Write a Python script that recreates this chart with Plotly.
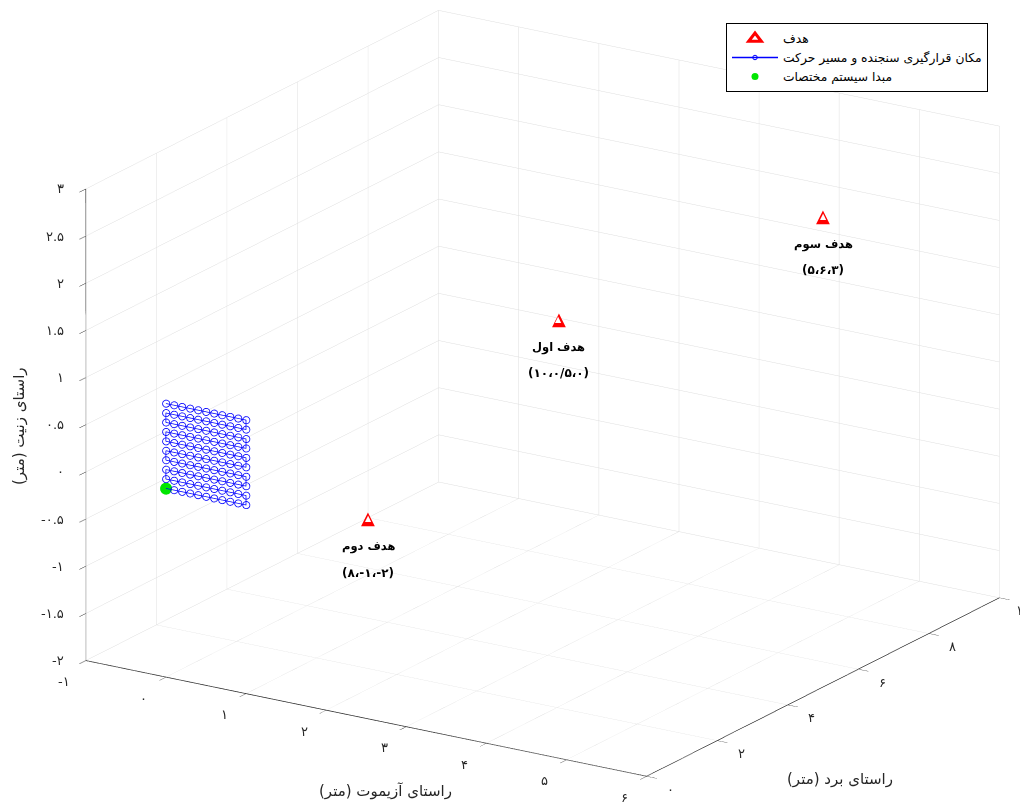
import plotly.graph_objects as go

# ---------------- data ----------------
# sensor placement grid (serpentine scan), metres
sensor_x = [0.0, 0.1, 0.2, 0.3, 0.4, 0.5, 0.6, 0.7, 0.8, 0.9, 1.0]
sensor_z = [0.0, 0.1, 0.2, 0.3, 0.4, 0.5, 0.6, 0.7, 0.8, 0.9]
sensor_y = 0.0

# coordinate system origin
origin_x = [0.0]
origin_y = [0.0]
origin_z = [0.0]

# targets
target_x = [0.5, -1.0, 6.0]
target_y = [10.0, 8.0, 5.0]
target_z = [0.0, -2.0, 3.0]
target_names = ["هدف اول", "هدف دوم", "هدف سوم"]
target_coords = ["(۱۰،۰/۵،۰)", "(۸،-۱،-۲)", "(۵،۶،۳)"]

# ticks
x_range = [-1, 6]
y_range = [0, 10]
z_range = [-2, 3]
x_ticks = [-1, 0, 1, 2, 3, 4, 5, 6]
x_tick_labels = ["-۱", "۰", "۱", "۲", "۳", "۴", "۵", "۶"]
y_ticks = [0, 2, 4, 6, 8, 10]
y_tick_labels = ["۰", "۲", "۴", "۶", "۸", "۱۰"]
z_ticks = [-2, -1.5, -1, -0.5, 0, 0.5, 1, 1.5, 2, 2.5, 3]
z_tick_labels = ["-۲", "-۱.۵", "-۱", "-۰.۵", "۰", "۰.۵", "۱", "۱.۵", "۲", "۲.۵", "۳"]

legend_labels = ["هدف", "مکان قرارگیری سنجنده و مسیر حرکت", "مبدا سیستم مختصات"]
x_title = "راستای آزیموت (متر)\u200f"
y_title = "راستای برد (متر)\u200f"
z_title = "راستای زنیت (متر)\u200f"

# serpentine path through the grid
path_x, path_y, path_z = [], [], []
for i, zv in enumerate(sensor_z):
    row = sensor_x if i % 2 == 0 else list(reversed(sensor_x))
    for xv in row:
        path_x.append(xv)
        path_y.append(sensor_y)
        path_z.append(zv)

FONT = "DejaVu Sans"
AX = "#262626"
GRID = "#dedede"
W, H = 1020, 795   # page body has an 8px margin

fig = go.Figure()

# legend-only entry for targets (triangle marker)
fig.add_trace(go.Scatter(
    x=[None], y=[None], mode="markers", name=legend_labels[0],
    marker=dict(symbol="triangle-up-open", color="red", size=11,
                line=dict(width=3, color="red")),
    showlegend=True, hoverinfo="skip"))

fig.add_trace(go.Scatter3d(
    x=path_x, y=path_y, z=path_z, mode="lines+markers", name=legend_labels[1],
    line=dict(color="#0000ff", width=1.5),
    marker=dict(symbol="circle-open", size=4.5, color="#0000ff"),
    hoverinfo="skip"))

fig.add_trace(go.Scatter3d(
    x=origin_x, y=origin_y, z=origin_z, mode="markers", name=legend_labels[2],
    marker=dict(symbol="circle", size=7, color="#00e600"),
    hoverinfo="skip"))

scene_ann = []
for tx, ty, tz, nm, cd in zip(target_x, target_y, target_z, target_names, target_coords):
    scene_ann.append(dict(x=tx, y=ty, z=tz, text="▲", showarrow=False,
                          font=dict(family=FONT, size=18, color="red")))
    scene_ann.append(dict(x=tx, y=ty, z=tz, text="▲", showarrow=False, yshift=-1,
                          font=dict(family=FONT, size=8, color="white")))
    scene_ann.append(dict(x=tx, y=ty, z=tz, text=nm, showarrow=False, yshift=-29,
                          font=dict(family=FONT, size=11.5, color="black", weight="bold")))
    scene_ann.append(dict(x=tx, y=ty, z=tz, text=cd, showarrow=False, yshift=-55,
                          font=dict(family=FONT, size=12, color="black", weight="bold")))

# tick labels placed MATLAB-style (horizontal) next to the axis lines
tick_font = dict(family=FONT, size=13, color=AX)
for v, t in zip(x_ticks, x_tick_labels):
    scene_ann.append(dict(x=v, y=y_range[0], z=z_range[0], text=t, showarrow=False,
                          xshift=-22, yshift=-21, font=tick_font))
for v, t in zip(y_ticks, y_tick_labels):
    scene_ann.append(dict(x=x_range[1], y=v, z=z_range[0], text=t, showarrow=False,
                          xshift=24, yshift=-13, font=tick_font))
for v, t in zip(z_ticks, z_tick_labels):
    scene_ann.append(dict(x=x_range[0], y=y_range[0], z=v, text=t, showarrow=False,
                          xanchor="right", xshift=-20, yshift=0, font=tick_font))

def axis(rng, tv):
    return dict(range=rng, tickvals=tv, autorange=False, showticklabels=False,
                showgrid=True, gridcolor=GRID, gridwidth=1,
                showline=True, linecolor=AX, linewidth=1.5,
                ticks="outside", ticklen=12, tickcolor=AX, tickwidth=1,
                zeroline=False, showbackground=False, showspikes=False,
                title=dict(text=""))

eye_dir = (0.509, -0.797, 0.323)
cam_center = (-0.047, -0.0415, -0.029)
dist = 1.5
k = 1.674
fig.update_layout(
    width=W, height=H,
    margin=dict(l=0, r=0, t=0, b=0),
    paper_bgcolor="white", plot_bgcolor="white",
    font=dict(family=FONT, color=AX),
    xaxis=dict(visible=False), yaxis=dict(visible=False),
    scene=dict(
        domain=dict(x=[0.0, 1.0], y=[0.0, 1.0]),
        xaxis=axis(x_range, x_ticks),
        yaxis=axis(y_range, y_ticks),
        zaxis=axis(z_range, z_ticks),
        aspectmode="manual",
        aspectratio=dict(x=1.0 * k, y=0.985 * k, z=0.749 * k),
        camera=dict(eye=dict(x=cam_center[0] + eye_dir[0] * dist,
                             y=cam_center[1] + eye_dir[1] * dist,
                             z=cam_center[2] + eye_dir[2] * dist),
                    up=dict(x=0, y=0, z=1),
                    center=dict(x=cam_center[0], y=cam_center[1], z=cam_center[2]),
                    projection=dict(type="orthographic")),
        annotations=scene_ann,
        bgcolor="white",
    ),
    legend=dict(x=980 / W, xanchor="right", y=1 - 15 / H, yanchor="top",
                bgcolor="white", bordercolor="black", borderwidth=1,
                font=dict(family=FONT, size=12.3, color="black"),
                tracegroupgap=0, itemwidth=46),
    annotations=[
        dict(xref="paper", yref="paper", x=377 / W, y=1 - 783 / H, text=x_title,
             xanchor="center", yanchor="middle",
             showarrow=False, font=dict(family=FONT, size=15, color=AX)),
        dict(xref="paper", yref="paper", x=832 / W, y=1 - 771 / H, text=y_title,
             xanchor="center", yanchor="middle",
             showarrow=False, font=dict(family=FONT, size=15, color=AX)),
        dict(xref="paper", yref="paper", x=11 / W, y=1 - 418 / H, text=z_title,
             xanchor="center", yanchor="middle",
             showarrow=False, textangle=-90, font=dict(family=FONT, size=15, color=AX)),
    ],
    showlegend=True,
)

fig.write_html("out.html")
